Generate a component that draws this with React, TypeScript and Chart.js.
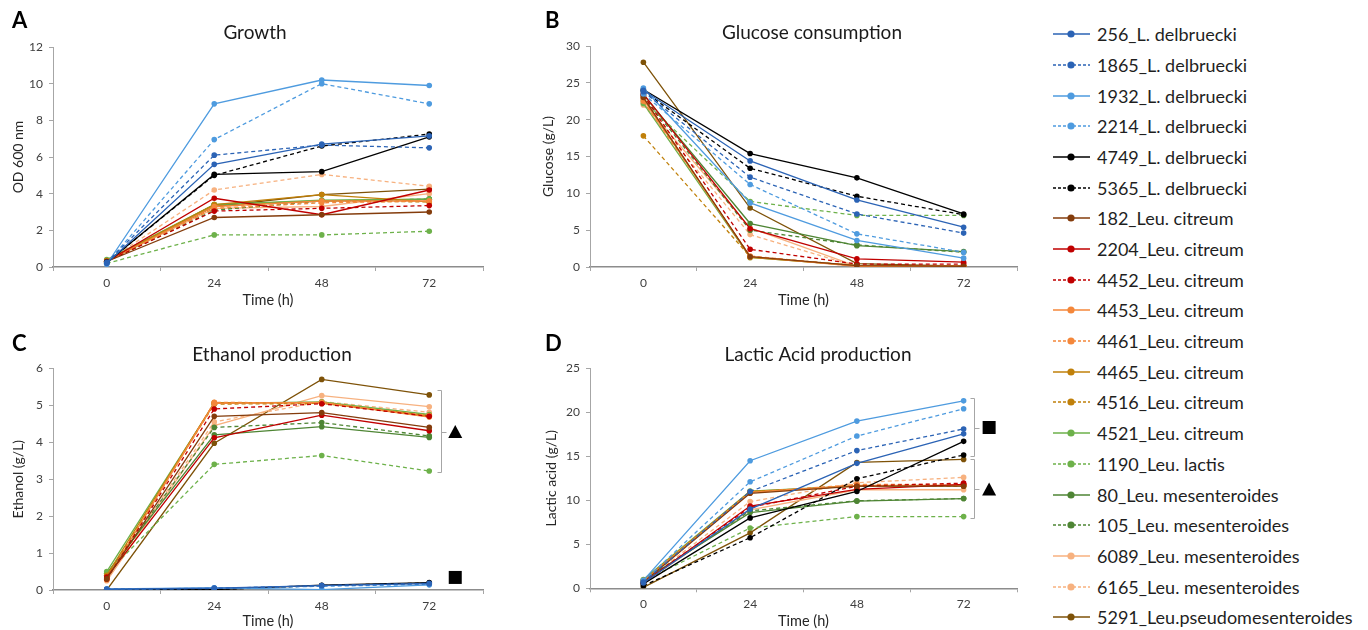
import React, { useEffect, useRef } from "react";
import { Chart, registerables } from "chart.js";

Chart.register(...registerables);

// ---------- data ----------
const timeLabels = ["0", "24", "48", "72"];

const strainNames = [
  "256_L. delbruecki",
  "1865_L. delbruecki",
  "1932_L. delbruecki",
  "2214_L. delbruecki",
  "4749_L. delbruecki",
  "5365_L. delbruecki",
  "182_Leu. citreum",
  "2204_Leu. citreum",
  "4452_Leu. citreum",
  "4453_Leu. citreum",
  "4461_Leu. citreum",
  "4465_Leu. citreum",
  "4516_Leu. citreum",
  "4521_Leu. citreum",
  "1190_Leu. lactis",
  "80_Leu. mesenteroides",
  "105_Leu. mesenteroides",
  "6089_Leu. mesenteroides",
  "6165_Leu. mesenteroides",
  "5291_Leu.pseudomesenteroides",
];

const strainColors = [
  "#2B63B5", "#2B63B5", "#4E9BDF", "#4E9BDF", "#000000", "#000000",
  "#843C0C", "#C00000", "#C00000", "#F4873A", "#F4873A", "#C0800A",
  "#C0800A", "#6DB14A", "#6DB14A", "#4E8534", "#4E8534", "#F7B17F",
  "#F7B17F", "#7E5208",
];

const strainDashed = [
  false, true, false, true, false, true,
  false, false, true, false, true, false,
  true, false, true, false, true, false,
  true, false,
];

// OD 600 nm at 0, 24, 48, 72 h (one row per strain, same order as strainNames)
const growthOD: number[][] = [
  [0.2, 5.6, 6.7, 7.15],
  [0.25, 6.1, 6.65, 6.5],
  [0.15, 8.9, 10.2, 9.9],
  [0.2, 6.95, 10.0, 8.9],
  [0.25, 5.05, 5.2, 7.1],
  [0.25, 5.0, 6.6, 7.25],
  [0.3, 2.7, 2.85, 3.0],
  [0.3, 3.75, 2.85, 4.2],
  [0.3, 3.05, 3.2, 3.35],
  [0.3, 3.3, 3.6, 3.6],
  [0.3, 3.2, 3.5, 3.6],
  [0.35, 3.4, 3.95, 3.55],
  [0.3, 3.3, 3.6, 3.55],
  [0.4, 3.4, 3.65, 3.7],
  [0.2, 1.75, 1.75, 1.95],
  [0.3, 3.4, 3.6, 3.7],
  [0.3, 3.1, 3.6, 3.7],
  [0.3, 3.2, 3.3, 4.0],
  [0.3, 4.2, 5.05, 4.4],
  [0.3, 3.3, 3.95, 4.25],
];

// Glucose (g/L)
const glucose: number[][] = [
  [24.0, 14.4, 9.1, 5.4],
  [23.8, 12.2, 7.2, 4.6],
  [24.3, 8.7, 3.6, 1.2],
  [23.5, 11.2, 4.5, 2.0],
  [24.1, 15.4, 12.1, 7.2],
  [23.9, 13.4, 9.6, 7.1],
  [23.0, 1.4, 0.2, 0.1],
  [23.5, 5.2, 1.1, 0.65],
  [23.3, 2.4, 0.4, 0.4],
  [22.8, 1.4, 0.1, 0.1],
  [22.5, 1.5, 0.1, 0.1],
  [23.0, 1.3, 0.2, 0.1],
  [17.8, 1.4, 0.2, 0.1],
  [22.2, 1.3, 0.2, 0.1],
  [22.6, 8.9, 7.0, 7.0],
  [23.4, 5.9, 2.9, 2.1],
  [23.2, 5.0, 3.0, 2.0],
  [22.3, 5.3, 0.1, 0.05],
  [22.0, 4.4, 0.05, 0.05],
  [27.8, 8.0, 0.45, 0.1],
];

// Ethanol (g/L)
const ethanol: number[][] = [
  [0.02, 0.05, 0.12, 0.17],
  [0.02, 0.04, 0.12, 0.18],
  [0.03, 0.06, 0.01, 0.14],
  [0.02, 0.05, 0.1, 0.15],
  [0.01, 0.01, 0.13, 0.2],
  [0.01, 0.01, 0.12, 0.19],
  [0.3, 4.7, 4.8, 4.4],
  [0.35, 4.12, 4.73, 4.31],
  [0.3, 4.9, 5.04, 4.7],
  [0.3, 5.05, 5.08, 4.68],
  [0.28, 5.08, 5.06, 4.72],
  [0.4, 5.07, 5.07, 4.7],
  [0.35, 5.03, 5.05, 4.72],
  [0.5, 5.05, 5.09, 4.75],
  [0.45, 3.4, 3.64, 3.22],
  [0.45, 4.2, 4.42, 4.13],
  [0.4, 4.4, 4.53, 4.17],
  [0.25, 4.45, 5.26, 4.96],
  [0.3, 4.55, 5.1, 4.81],
  [0.0, 3.97, 5.7, 5.28],
];

// Lactic acid (g/L)
const lacticAcid: number[][] = [
  [0.6, 9.0, 14.2, 17.55],
  [0.7, 11.0, 15.65, 18.1],
  [0.9, 14.5, 19.0, 21.3],
  [0.8, 12.1, 17.3, 20.4],
  [0.5, 8.0, 11.0, 16.7],
  [0.3, 5.75, 12.45, 15.15],
  [0.7, 10.8, 11.6, 11.6],
  [0.6, 9.35, 11.25, 11.8],
  [0.7, 9.2, 11.6, 11.95],
  [0.8, 10.9, 11.7, 11.7],
  [0.8, 10.9, 11.8, 11.8],
  [0.9, 11.0, 11.6, 11.7],
  [0.7, 10.9, 11.7, 11.6],
  [1.0, 11.05, 11.65, 11.65],
  [0.8, 6.85, 8.15, 8.15],
  [0.9, 8.6, 9.9, 10.2],
  [0.8, 8.8, 9.95, 10.2],
  [0.6, 8.9, 11.2, 11.2],
  [0.7, 9.85, 12.0, 12.6],
  [0.1, 6.3, 14.3, 14.65],
];

// ---------- styling / layout ----------
const FONT = "Lato, 'Open Sans', 'Liberation Sans', sans-serif";

type Annot =
  | { kind: "bracket"; from: number; to: number; symbol: "triangle" | "square" }
  | { kind: "symbol"; at: number; symbol: "triangle" | "square" };

interface PanelSpec {
  letter: string;
  title: string;
  titleX: number;
  titleY: number;
  letterX: number;
  letterY: number;
  yTitle: string;
  yTitlePad: number;
  xTitlePad: number;
  yMax: number;
  yStep: number;
  values: number[][];
  box: { left: number; top: number; w: number; h: number };
  area: { left: number; right: number; top: number; bottom: number };
  annots: Annot[];
  bracketDx: number;
  symbolDx: number;
}

const panels: PanelSpec[] = [
  {
    letter: "A", title: "Growth", titleX: 255, titleY: 33, letterX: 12, letterY: 21,
    yTitle: "OD 600 nm", yTitlePad: 10, xTitlePad: 6, yMax: 12, yStep: 2, values: growthOD,
    box: { left: 0, top: 0, w: 530, h: 315 },
    area: { left: 53, right: 483, top: 47, bottom: 267 },
    annots: [], bracketDx: 0, symbolDx: 0,
  },
  {
    letter: "B", title: "Glucose consumption", titleX: 282, titleY: 33, letterX: 15, letterY: 21,
    yTitle: "Glucose (g/L)", yTitlePad: 10, xTitlePad: 6, yMax: 30, yStep: 5, values: glucose,
    box: { left: 530, top: 0, w: 510, h: 315 },
    area: { left: 60, right: 487, top: 46, bottom: 267 },
    annots: [], bracketDx: 0, symbolDx: 0,
  },
  {
    letter: "C", title: "Ethanol production", titleX: 272, titleY: 40, letterX: 12, letterY: 29,
    yTitle: "Ethanol (g/L)", yTitlePad: 10, xTitlePad: 0, yMax: 6, yStep: 1, values: ethanol,
    box: { left: 0, top: 315, w: 530, h: 315 },
    area: { left: 53, right: 483, top: 53.3, bottom: 275 },
    annots: [
      { kind: "bracket", from: 5.4, to: 3.18, symbol: "triangle" },
      { kind: "symbol", at: 0.34, symbol: "square" },
    ],
    bracketDx: 12, symbolDx: 26,
  },
  {
    letter: "D", title: "Lactic Acid production", titleX: 288, titleY: 40, letterX: 15, letterY: 29,
    yTitle: "Lactic acid (g/L)", yTitlePad: 13, xTitlePad: 0, yMax: 25, yStep: 5, values: lacticAcid,
    box: { left: 530, top: 315, w: 510, h: 315 },
    area: { left: 60, right: 487, top: 53.3, bottom: 273.3 },
    annots: [
      { kind: "bracket", from: 21.6, to: 15.05, symbol: "square" },
      { kind: "bracket", from: 14.66, to: 7.95, symbol: "triangle" },
    ],
    bracketDx: 10, symbolDx: 25.5,
  },
];

function drawSymbol(ctx: CanvasRenderingContext2D, kind: string, cx: number, cy: number) {
  ctx.fillStyle = "#000000";
  if (kind === "square") {
    ctx.fillRect(cx - 6.5, cy - 6.5, 13, 13);
  } else {
    ctx.beginPath();
    ctx.moveTo(cx, cy - 6.5);
    ctx.lineTo(cx + 7, cy + 6.5);
    ctx.lineTo(cx - 7, cy + 6.5);
    ctx.closePath();
    ctx.fill();
  }
}

function makeDecor(p: PanelSpec) {
  return {
    id: "decor" + p.letter,
    afterDraw(chart: any) {
      const ctx: CanvasRenderingContext2D = chart.ctx;
      ctx.save();
      ctx.fillStyle = "#000000";
      ctx.font = `bold 22px ${FONT}`;
      ctx.textAlign = "left";
      ctx.textBaseline = "middle";
      ctx.fillText(p.letter, p.letterX, p.letterY);
      ctx.fillStyle = "#1a1a1a";
      ctx.font = `19px ${FONT}`;
      ctx.textAlign = "center";
      ctx.fillText(p.title, p.titleX, p.titleY);

      const xs = chart.scales.x;
      const ys = chart.scales.y;
      const lastX = xs.getPixelForValue(timeLabels.length - 1);
      const bx = Math.round(lastX + p.bracketDx) + 0.5;
      for (const a of p.annots) {
        if (a.kind === "bracket") {
          const y1 = Math.round(ys.getPixelForValue(a.from)) + 0.5;
          const y2 = Math.round(ys.getPixelForValue(a.to)) + 0.5;
          const ym = (y1 + y2) / 2;
          ctx.strokeStyle = "#a6a6a6";
          ctx.lineWidth = 1;
          ctx.beginPath();
          ctx.moveTo(bx - 4, y1);
          ctx.lineTo(bx, y1);
          ctx.lineTo(bx, y2);
          ctx.lineTo(bx - 4, y2);
          ctx.moveTo(bx, Math.round(ym) + 0.5);
          ctx.lineTo(bx + 5, Math.round(ym) + 0.5);
          ctx.stroke();
          drawSymbol(ctx, a.symbol, lastX + p.symbolDx, ym);
        } else {
          drawSymbol(ctx, a.symbol, lastX + p.symbolDx, ys.getPixelForValue(a.at));
        }
      }
      ctx.restore();
    },
  };
}

function makeConfig(p: PanelSpec): any {
  const xHeight = p.box.h - p.area.bottom;
  return {
    type: "line",
    data: {
      labels: timeLabels,
      datasets: strainNames.map((name, i) => ({
        label: name,
        data: p.values[i],
        borderColor: strainColors[i],
        backgroundColor: strainColors[i],
        borderWidth: 1.3,
        borderDash: strainDashed[i] ? [4, 3] : [],
        pointRadius: 2.8,
        pointBorderWidth: 0,
        pointBackgroundColor: strainColors[i],
        tension: 0,
        fill: false,
      })),
    },
    options: {
      responsive: false,
      animation: false,
      devicePixelRatio: 1,
      layout: {
        padding: { left: 0, top: p.area.top, right: p.box.w - p.area.right, bottom: 0 },
      },
      plugins: {
        legend: { display: false },
        tooltip: { enabled: false },
        title: { display: false },
      },
      scales: {
        x: {
          type: "category",
          offset: true,
          grid: {
            offset: true,
            drawOnChartArea: false,
            drawTicks: true,
            tickLength: 4,
            color: "#a6a6a6",
          },
          border: { color: "#8c8c8c", width: 1.5 },
          ticks: { font: { family: FONT, size: 12 }, color: "#404040", padding: 5, maxRotation: 0 },
          title: {
            display: true,
            text: "Time (h)",
            font: { family: FONT, size: 14.5 },
            color: "#262626",
            padding: { top: 0, bottom: p.xTitlePad },
          },
          afterFit: (s: any) => {
            s.height = xHeight;
          },
        },
        y: {
          min: 0,
          max: p.yMax,
          ticks: {
            stepSize: p.yStep,
            font: { family: FONT, size: 12 },
            color: "#404040",
            padding: 6,
          },
          grid: {
            drawOnChartArea: false,
            drawTicks: true,
            tickLength: 4,
            color: "#a6a6a6",
          },
          border: { color: "#a6a6a6", width: 1 },
          title: {
            display: true,
            text: p.yTitle,
            font: { family: FONT, size: 14 },
            color: "#262626",
            padding: { top: p.yTitlePad, bottom: 0 },
          },
          afterFit: (s: any) => {
            s.width = p.area.left;
          },
        },
      },
    },
    plugins: [makeDecor(p)],
  };
}

function Panel({ spec }: { spec: PanelSpec }) {
  const ref = useRef<HTMLCanvasElement | null>(null);
  useEffect(() => {
    if (!ref.current) return;
    const chart = new Chart(ref.current, makeConfig(spec));
    return () => chart.destroy();
  }, [spec]);
  return (
    <canvas
      ref={ref}
      width={spec.box.w}
      height={spec.box.h}
      style={{
        position: "absolute",
        left: spec.box.left,
        top: spec.box.top,
        width: spec.box.w,
        height: spec.box.h,
      }}
    />
  );
}

function Legend() {
  return (
    <div style={{ position: "absolute", left: 1040, top: 0, width: 328, height: 630 }}>
      {strainNames.map((name, i) => {
        const cy = 34.3 + 30.68 * i;
        return (
          <div
            key={name}
            style={{ position: "absolute", left: 0, top: cy - 12, height: 24, width: 328 }}
          >
            <svg
              width={40}
              height={24}
              style={{ position: "absolute", left: 12, top: 0 }}
            >
              <line
                x1={1}
                y1={12}
                x2={38}
                y2={12}
                stroke={strainColors[i]}
                strokeWidth={1.6}
                strokeDasharray={strainDashed[i] ? "3 2" : undefined}
              />
              <circle cx={19} cy={12} r={3.6} fill={strainColors[i]} />
            </svg>
            <span
              style={{
                position: "absolute",
                left: 57,
                top: 0,
                lineHeight: "24px",
                fontFamily: FONT,
                fontSize: 18,
                color: "#1f1f1f",
                whiteSpace: "nowrap",
              }}
            >
              {name}
            </span>
          </div>
        );
      })}
    </div>
  );
}

export default function App() {
  return (
    <div
      style={{
        position: "fixed",
        left: 0,
        top: 0,
        width: 1368,
        height: 630,
        background: "#ffffff",
        overflow: "hidden",
      }}
    >
      {panels.map((p) => (
        <Panel key={p.letter} spec={p} />
      ))}
      <Legend />
    </div>
  );
}
